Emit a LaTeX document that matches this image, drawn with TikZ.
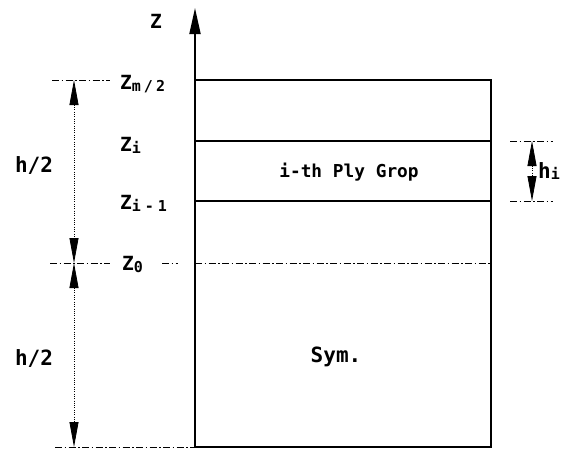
\documentclass[tikz,border=0pt]{standalone}
\usepackage{fontspec}
\setmainfont{DejaVu Sans Mono}
\usetikzlibrary{arrows.meta}
\newcommand\Zsub[2]{#1\raisebox{-2.5pt}{\fontsize{15}{15}\selectfont #2}}
\begin{document}
\begin{tikzpicture}[x=1pt,y=-1pt,
  lab/.style={inner sep=0pt,font=\fontsize{19.5}{20}\selectfont\bfseries},
  big/.style={inner sep=0pt,font=\fontsize{21}{22}\selectfont\bfseries},
  ply/.style={inner sep=0pt,font=\fontsize{17.8}{19}\selectfont\bfseries},
  dashdot/.style={line width=0.7pt,dash pattern=on 7pt off 2.5pt on 1.5pt off 2.5pt},
  dimline/.style={line width=0.8pt,dash pattern=on 1pt off 1.3pt,
    {Triangle[length=25pt,width=9pt]}-{Triangle[length=25pt,width=9pt]}},
  frame/.style={line width=1.4pt}]
\useasboundingbox (0,0) rectangle (561,448);
% coordinates
\coordinate (axb) at (195,447);
\coordinate (axt) at (195,8);
\coordinate (tl) at (195,80);
\coordinate (tr) at (491,80);
\coordinate (il) at (195,141);
\coordinate (ir) at (491,141);
\coordinate (jl) at (195,201);
\coordinate (jr) at (491,201);
\coordinate (ol) at (195,263);
\coordinate (or) at (491,263);
\coordinate (bl) at (195,447);
\coordinate (br) at (491,447);
% layers
\draw[frame] (tl) -- (tr) -- (br) -- (bl);
\draw[frame] (il) -- (ir);
\draw[frame] (jl) -- (jr);
\draw[dashdot] (ol) -- (or);
% axis
\draw[line width=1.8pt,-{Triangle[length=26pt,width=11pt]}] (axb) -- (axt);
\node[lab] (zax) at (156,21) {Z};
% extension lines left
\coordinate (e1a) at (52,80);  \coordinate (e1b) at (110,80);
\coordinate (e2a) at (50,263); \coordinate (e2b) at (110,263);
\coordinate (e3a) at (162,263); \coordinate (e3b) at (178,263);
\coordinate (e4a) at (55,447); \coordinate (e4b) at (195,447);
\draw[dashdot] (e1a) -- (e1b);
\draw[dashdot] (e2a) -- (e2b);
\draw[dashdot] (e3a) -- (e3b);
\draw[dashdot] (e4a) -- (e4b);
% extension lines right
\coordinate (r1a) at (510,141); \coordinate (r1b) at (553,141);
\coordinate (r2a) at (510,201); \coordinate (r2b) at (553,201);
\draw[dashdot] (r1a) -- (r1b);
\draw[dashdot] (r2a) -- (r2b);
% dimension lines
\coordinate (d1) at (74,80);
\coordinate (d2) at (74,263);
\coordinate (d3) at (74,447);
\draw[dimline] (d1) -- (d2);
\draw[dimline] (d2) -- (d3);
\coordinate (h1) at (532,141);
\coordinate (h2) at (532,201);
\draw[dimline] (h1) -- (h2);
% labels
\node[lab,anchor=base west] (zm) at (120,89) {\Zsub{Z}{m\hspace{3pt}/\hspace{3pt}2}};
\node[lab,anchor=base west] (zi) at (120,151) {\Zsub{Z}{i}};
\node[lab,anchor=base west] (zj) at (120,209) {\Zsub{Z}{i\hspace{4pt}-\hspace{4pt}1}};
\node[lab,anchor=base west] (z0) at (122,270) {\Zsub{Z}{0}};
\node[big] (hh1) at (34,165) {h/2};
\node[big] (hh2) at (34,358) {h/2};
\node[ply,anchor=base] (ply) at (349,177) {i-th Ply Grop};
\node[big,anchor=base] (sym) at (336,362) {Sym.};
\node[big,anchor=base west] (hi) at (538,178) {h\raisebox{-1pt}{\fontsize{15}{15}\selectfont i}};
\end{tikzpicture}
\end{document}
